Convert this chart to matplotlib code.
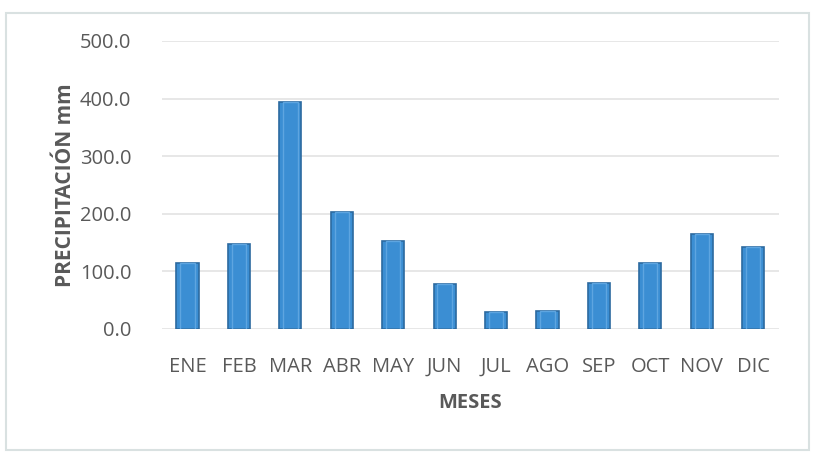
import numpy as np
import matplotlib.pyplot as plt
from matplotlib.patches import Rectangle

months = ["ENE", "FEB", "MAR", "ABR", "MAY", "JUN", "JUL", "AGO", "SEP", "OCT", "NOV", "DIC"]
precip = [114, 148, 394, 203, 153, 78, 30, 31, 80, 114, 165, 142]
yticks = [0, 100, 200, 300, 400, 500]

plt.rcParams['font.family'] = ['Open Sans', 'DejaVu Sans']
gray = '#595959'

fig = plt.figure(figsize=(8.13, 4.55), dpi=100)
fig.patches.append(Rectangle((0.007, 0.011), 0.988, 0.96, transform=fig.transFigure,
                             fill=False, edgecolor='#d9e1e1', linewidth=1.5))
ax = fig.add_axes([0.199, 0.277, 0.759, 0.633])

x = np.arange(len(months))
ax.bar(x, precip, width=0.43, color='#3b8ed3', edgecolor='#2c6aa0', linewidth=1.2, zorder=3)
# inner bevel highlight
ax.bar(x, precip, width=0.28, color='none', edgecolor='#5ea5e0', linewidth=1.0, zorder=4)

ax.set_xlim(-0.5, len(months) - 0.5)
ax.set_ylim(0, 500)
ax.set_yticks(yticks)
ax.set_yticklabels([f"{v:.1f}" for v in yticks])
ax.set_xticks(x)
ax.set_xticklabels(months)
ax.tick_params(axis='both', length=0, labelsize=14.5, colors=gray)
ax.tick_params(axis='y', pad=22)
ax.tick_params(axis='x', pad=20)
ax.grid(axis='y', color='#e3e3e3', linewidth=1.2, zorder=0)
for s in ax.spines.values():
    s.set_visible(False)

ax.set_xlabel("MESES", fontsize=14.5, fontweight='bold', color=gray, labelpad=12)
ax.set_ylabel("PRECIPITACIÓN mm", fontsize=15, fontweight='bold', color=gray, labelpad=3)

fig.savefig("out.png", dpi=100)
